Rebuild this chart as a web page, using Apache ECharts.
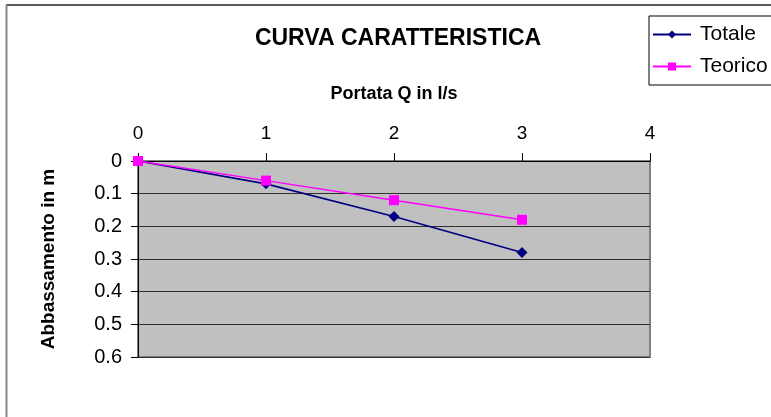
<!DOCTYPE html>
<html>
<head>
<meta charset="utf-8">
<script src="https://cdn.jsdelivr.net/npm/echarts@6/dist/echarts.min.js"></script>
<style>
  html, body { margin: 0; padding: 0; background: #fff; }
  #chart { width: 771px; height: 417px; }
</style>
</head>
<body>
<div id="chart"></div>
<script>
// Flow rate Q (l/s) and drawdown (m) for the two curves
const portata = [0, 1, 2, 3];
const totale = [0, 0.07, 0.17, 0.28];
const teorico = [0, 0.06, 0.12, 0.18];

const FONT = 'Liberation Sans, Arial, sans-serif';

const chart = echarts.init(document.getElementById('chart'), null, { renderer: 'canvas' });

chart.setOption({
  backgroundColor: '#ffffff',
  animation: false,
  title: {
    text: 'CURVA CARATTERISTICA',
    left: 393,
    top: 22,
    textAlign: 'center',
    textStyle: { fontFamily: FONT, fontSize: 23, fontWeight: 'bold', color: '#000' }
  },
  legend: {
    orient: 'vertical',
    left: 649,
    top: 16,
    padding: [8, 40, 8, 3],
    itemGap: 11,
    itemWidth: 38,
    itemHeight: 10,
    borderColor: '#000',
    borderWidth: 1,
    backgroundColor: '#fff',
    textStyle: { fontFamily: FONT, fontSize: 21, color: '#000', padding: [0, 0, 0, 4] },
    data: ['Totale', 'Teorico']
  },
  grid: {
    left: 138,
    top: 161,
    width: 512,
    height: 196,
    show: true,
    backgroundColor: '#C0C0C0',
    borderColor: '#808080',
    borderWidth: 2
  },
  xAxis: {
    type: 'value',
    position: 'top',
    min: 0,
    max: 4,
    interval: 1,
    name: 'Portata Q in l/s',
    nameLocation: 'middle',
    nameGap: 58,
    nameTextStyle: { fontFamily: FONT, fontSize: 18, fontWeight: 'bold', color: '#000' },
    axisLine: { show: true, lineStyle: { color: '#000', width: 1 } },
    axisTick: { show: true, length: 8, lineStyle: { color: '#000' } },
    axisLabel: { fontFamily: FONT, fontSize: 19, color: '#000', margin: 18 },
    splitLine: { show: false }
  },
  yAxis: {
    type: 'value',
    inverse: true,
    min: 0,
    max: 0.6,
    interval: 0.1,
    name: 'Abbassamento in m',
    nameLocation: 'middle',
    nameGap: 80,
    nameRotate: 90,
    nameTextStyle: { fontFamily: FONT, fontSize: 19, fontWeight: 'bold', color: '#000' },
    axisLine: { show: true, lineStyle: { color: '#000', width: 1 } },
    axisTick: { show: true, length: 7, lineStyle: { color: '#000' } },
    axisLabel: { fontFamily: FONT, fontSize: 20, color: '#000', margin: 16 },
    splitLine: { show: true, lineStyle: { color: '#303030', width: 1 } }
  },
  series: [
    {
      name: 'Totale',
      type: 'line',
      data: portata.map((q, i) => [q, totale[i]]),
      symbol: 'diamond',
      symbolSize: 11,
      itemStyle: { color: '#000080' },
      lineStyle: { color: '#000080', width: 1.6 },
      z: 3
    },
    {
      name: 'Teorico',
      type: 'line',
      data: portata.map((q, i) => [q, teorico[i]]),
      symbol: 'rect',
      symbolSize: 10,
      itemStyle: { color: '#FF00FF' },
      lineStyle: { color: '#FF00FF', width: 1.4 },
      z: 4
    }
  ],
  graphic: [
    {
      type: 'line',
      shape: { x1: 6, y1: 5, x2: 771, y2: 5 },
      style: { stroke: '#222', lineWidth: 1.5 }
    },
    {
      type: 'line',
      shape: { x1: 6.5, y1: 5, x2: 6.5, y2: 417 },
      style: { stroke: '#888', lineWidth: 2 }
    }
  ]
});
</script>
</body>
</html>
